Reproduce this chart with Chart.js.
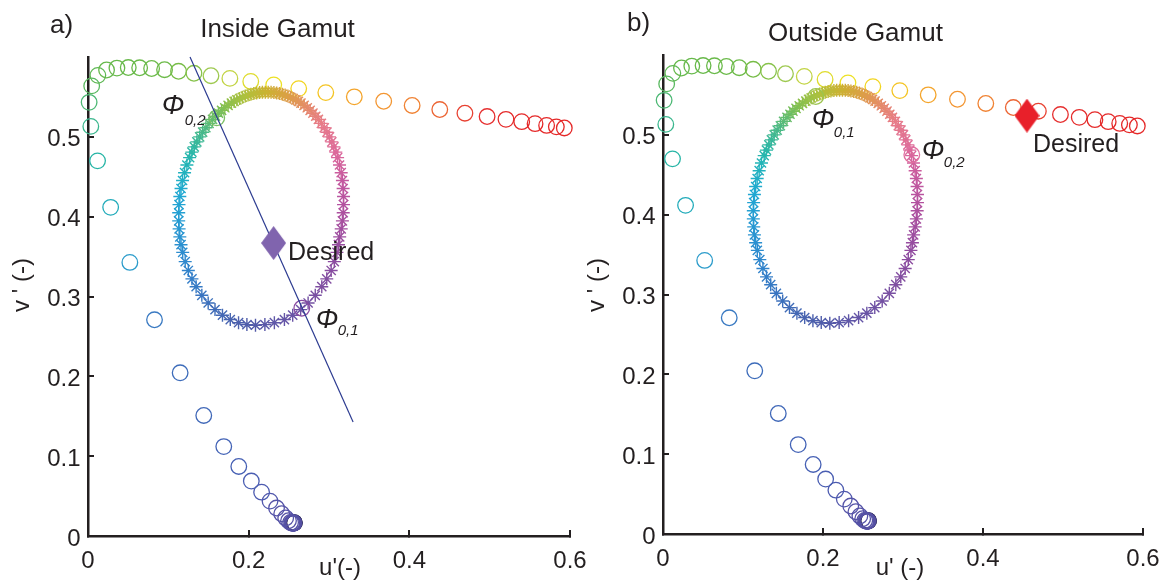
<!DOCTYPE html>
<html><head><meta charset="utf-8">
<script src="https://cdn.jsdelivr.net/npm/chart.js@4.4.1/dist/chart.umd.min.js"></script>
<style>
html,body{margin:0;padding:0;background:#fff;}
#wrap{position:relative;width:1164px;height:580px;overflow:hidden;background:#fff;}
.panel{position:absolute;top:0;height:580px;}
#pa{left:0;width:600px;} #pb{left:582px;width:582px;}
</style></head><body>
<div id="wrap">
 <div class="panel" id="pa"><canvas id="ca" width="600" height="580"></canvas></div>
 <div class="panel" id="pb"><canvas id="cb" width="582" height="580"></canvas></div>
</div>
<script>
// ---------------- data ----------------
const wavelengths = [380,385,390,395,400,405,410,415,420,425,430,435,440,445,450,455,460,465,470,475,480,485,490,495,500,505,510,515,520,525,530,535,540,545,550,555,560,565,570,575,580,585,590,595,600,605,610,615,620,625,630,635,640,645];
const locusU = [0.2568,0.2568,0.2564,0.2561,0.2557,0.2553,0.2546,0.2537,0.2522,0.2496,0.2461,0.2411,0.2347,0.2266,0.2161,0.2033,0.1877,0.1690,0.1441,0.1147,0.0828,0.0521,0.0282,0.0119,0.0035,0.0014,0.0046,0.0123,0.0231,0.0360,0.0501,0.0643,0.0792,0.0953,0.1127,0.1319,0.1531,0.1766,0.2026,0.2312,0.2623,0.2960,0.3315,0.3681,0.4035,0.4379,0.4692,0.4968,0.5203,0.5399,0.5565,0.5709,0.5830,0.5929];
const locusV = [0.0165,0.0166,0.0163,0.0162,0.0159,0.0160,0.0159,0.0163,0.0169,0.0191,0.0226,0.0279,0.0350,0.0437,0.0549,0.0688,0.0871,0.1120,0.1510,0.2044,0.2708,0.3427,0.4117,0.4699,0.5131,0.5432,0.5638,0.5770,0.5837,0.5861,0.5868,0.5865,0.5856,0.5841,0.5821,0.5796,0.5766,0.5732,0.5694,0.5651,0.5604,0.5554,0.5501,0.5446,0.5393,0.5342,0.5296,0.5254,0.5219,0.5190,0.5165,0.5143,0.5125,0.5111];

const gamutU = [0.2085,0.2202,0.2320,0.2445,0.2548,0.2647,0.2740,0.2829,0.2910,0.2972,0.3027,0.3066,0.3099,0.3118,0.3133,0.3152,0.3167,0.3177,
 0.3181,0.3181,0.3176,0.3167,0.3152,0.3131,0.3107,0.3085,0.3061,0.3035,0.3006,0.2975,0.2941,0.2905,0.2868,0.2835,0.2800,0.2765,0.2729,0.2690,0.2651,0.2619,0.2587,0.2555,0.2522,0.2488,0.2454,0.2420,0.2384,0.2349,0.2314,0.2279,0.2243,
 0.2207,0.2171,0.2136,0.2099,0.2064,0.2028,0.1992,0.1958,0.1922,0.1887,0.1853,0.1819,0.1785,0.1744,0.1703,0.1663,0.1624,0.1587,0.1550,0.1507,0.1467,0.1427,0.1390,0.1355,0.1323,0.1293,0.1265,0.1231,0.1202,0.1177,0.1158,0.1143,0.1133,
 0.1129,0.1129,0.1134,0.1143,0.1158,0.1179,0.1210,0.1249,0.1294,0.1346,0.1417,0.1496,0.1581,0.1674,0.1771,0.1874,0.1978];
const gamutV = [0.2640,0.2648,0.2672,0.2711,0.2766,0.2836,0.2919,0.3015,0.3123,0.3221,0.3326,0.3437,0.3553,0.3649,0.3747,0.3847,0.3947,0.4049,
 0.4151,0.4253,0.4353,0.4453,0.4551,0.4647,0.4740,0.4808,0.4874,0.4937,0.4999,0.5058,0.5114,0.5168,0.5218,0.5258,0.5296,0.5331,0.5364,0.5395,0.5423,0.5444,0.5463,0.5480,0.5496,0.5510,0.5523,0.5533,0.5542,0.5549,0.5554,0.5558,0.5560,
 0.5560,0.5558,0.5554,0.5549,0.5542,0.5533,0.5523,0.5510,0.5496,0.5480,0.5463,0.5444,0.5423,0.5395,0.5364,0.5331,0.5296,0.5258,0.5218,0.5168,0.5114,0.5058,0.4999,0.4937,0.4874,0.4808,0.4740,0.4647,0.4551,0.4453,0.4353,0.4253,0.4151,
 0.4049,0.3947,0.3847,0.3747,0.3649,0.3553,0.3437,0.3326,0.3221,0.3123,0.3015,0.2919,0.2836,0.2766,0.2711,0.2672,0.2648];

const desiredInside = [0.231, 0.367];
const desiredOutside = [0.455, 0.524];
const phiInside01 = [0.2661, 0.2853];
const phiInside02 = [0.1603, 0.5238];
const phiOutside01 = [0.191, 0.548];
const phiOutside02 = [0.311, 0.475];
const lineU = [0.127, 0.330];
const lineV = [0.600, 0.1429];

const xTicks = [0, 0.2, 0.4, 0.6];
const yTicks = [0, 0.1, 0.2, 0.3, 0.4, 0.5];

// ---------------- styles ----------------
const FONT = '"Liberation Sans", Arial, Helvetica, sans-serif';
const INK = '#231f20';
const locusColorStops = [[380,'#141428'],[385,'#2c2a5c'],[390,'#463f8a'],[400,'#5650a2'],[440,'#5654a8'],[450,'#4d5bb0'],[465,'#4363b6'],[475,'#3d6cba'],[480,'#3a7ac2'],[485,'#2c9ccb'],[490,'#21abba'],[495,'#27b5a6'],[500,'#3bb78e'],[505,'#4cb874'],[510,'#5ab960'],[520,'#66b94c'],[545,'#6cba48'],[550,'#76bc46'],[555,'#86c24a'],[560,'#9ec950'],[565,'#c2d444'],[570,'#dfdc2c'],[575,'#ede124'],[580,'#f2d520'],[585,'#f4c423'],[590,'#f4a52c'],[595,'#f39632'],[600,'#f08334'],[605,'#ec6534'],[610,'#e84232'],[615,'#e63030'],[620,'#e52a2a'],[645,'#e52828']];
const gamutColorStops = [[0,'#b0509f'],[15,'#c65a9f'],[27,'#db689c'],[45,'#e77b8a'],[58,'#e58a6c'],[72,'#dd9e48'],[88,'#cbb232'],[103,'#afc13e'],[120,'#80c052'],[138,'#48b98a'],[155,'#22b6b2'],[172,'#20a9d2'],[190,'#2898d2'],[210,'#3184cc'],[228,'#3a72be'],[248,'#4864b0'],[265,'#525aa8'],[282,'#6156a8'],[310,'#7850a2'],[335,'#8e4ca0'],[360,'#b0509f']];

function hex2rgb(h){return [parseInt(h.slice(1,3),16),parseInt(h.slice(3,5),16),parseInt(h.slice(5,7),16)];}
function interp(stops, t){
  if (t <= stops[0][0]) return stops[0][1];
  for (let i=1;i<stops.length;i++){
    if (t <= stops[i][0]){
      const [t0,c0]=stops[i-1],[t1,c1]=stops[i];
      const f=(t-t0)/(t1-t0), a=hex2rgb(c0), b=hex2rgb(c1);
      return 'rgb('+a.map((v,k)=>Math.round(v+(b[k]-v)*f)).join(',')+')';
    }
  }
  return stops[stops.length-1][1];
}
function gamutColor(u,v){
  let a = Math.atan2((v-0.41)/0.146,(u-0.2155)/0.1025)*180/Math.PI;
  if (a<0) a+=360;
  return interp(gamutColorStops,a);
}
function makeDiamond(color,w,h){
  const c=document.createElement('canvas'); c.width=w; c.height=h;
  const g=c.getContext('2d'); g.fillStyle=color; g.beginPath();
  g.moveTo(w/2,0); g.lineTo(w,h/2); g.lineTo(w/2,h); g.lineTo(0,h/2); g.closePath(); g.fill();
  return c;
}

const locusPts = locusU.map((u,i)=>({x:u,y:locusV[i]}));
const locusCols = wavelengths.map(w=>interp(locusColorStops,w));
const gamutPts = gamutU.map((u,i)=>({x:u,y:gamutV[i]}));
const gamutCols = gamutPts.map(p=>gamutColor(p.x,p.y));

// ---------------- text layer plugin (items kept outside Chart options) ----------------
function makeTextLayer(items){
  return {
    id:'textLayer',
    afterDraw(chart){
      const ctx=chart.ctx, xs=chart.scales.x, ys=chart.scales.y;
      ctx.save();
      items.forEach(it=>{
        let px=it.px, py=it.py;
        if (it.at){ px=xs.getPixelForValue(it.at[0])+(it.dx||0); py=ys.getPixelForValue(it.at[1])+(it.dy||0); }
        ctx.font=it.font; ctx.fillStyle=it.color||INK;
        if (it.rotate){
          ctx.save(); ctx.translate(px,py); ctx.rotate(-Math.PI/2);
          ctx.textAlign='center'; ctx.textBaseline='middle'; ctx.fillText(it.text,0,0); ctx.restore();
        } else {
          ctx.textAlign=it.align||'left'; ctx.textBaseline='alphabetic';
          ctx.fillText(it.text,px,py);
        }
      });
      ctx.restore();
    }
  };
}

function scales(yW, xH){
  return {
    x:{type:'linear',min:0,max:0.6,
      afterBuildTicks:s=>{s.ticks=xTicks.map(v=>({value:v}));},
      afterFit:s=>{s.height=xH; s.paddingLeft=0; s.paddingRight=0; s.paddingTop=0; s.paddingBottom=0;},
      grid:{drawOnChartArea:false,drawTicks:true,tickLength:-6,color:INK,tickColor:INK,lineWidth:2,tickWidth:2},
      border:{display:true,color:INK,width:2.5},
      ticks:{font:{family:FONT,size:24},color:INK,padding:17,maxRotation:0,autoSkip:false,callback:v=>String(v)},
      title:{display:false}
    },
    y:{type:'linear',min:0,max:0.6,
      afterBuildTicks:s=>{s.ticks=yTicks.map(v=>({value:v}));},
      afterFit:s=>{s.width=yW; s.paddingLeft=0; s.paddingRight=0; s.paddingTop=0; s.paddingBottom=0;},
      grid:{drawOnChartArea:false,drawTicks:true,tickLength:-6,color:INK,tickColor:INK,lineWidth:2,tickWidth:2},
      border:{display:true,color:INK,width:2.5},
      ticks:{font:{family:FONT,size:24},color:INK,padding:13.5,labelOffset:3,autoSkip:false,callback:v=>String(v)},
      title:{display:false}
    }
  };
}

function datasets(desired, desiredColor, phiPts, phiCols, withLine){
  const ds = [];
  ds.push({type:'scatter',label:'Desired',data:[{x:desired[0],y:desired[1]}],pointStyle:makeDiamond(desiredColor,25,34),pointRadius:12,order:0,clip:false});
  if (withLine) ds.push({type:'line',label:'line',data:lineU.map((u,i)=>({x:u,y:lineV[i]})),borderColor:'#2c3b90',borderWidth:1.2,pointRadius:0,fill:false,order:1,clip:false});
  ds.push({type:'scatter',label:'phi',data:phiPts.map(p=>({x:p[0],y:p[1]})),pointStyle:'circle',pointRadius:7.8,pointBorderWidth:1.3,pointBorderColor:phiCols,pointBackgroundColor:'rgba(0,0,0,0)',order:2,clip:false});
  ds.push({type:'scatter',label:'gamut',data:gamutPts,pointStyle:'star',pointRadius:6.5,pointBorderWidth:1.4,pointBorderColor:gamutCols,pointBackgroundColor:gamutCols,order:3,clip:false});
  ds.push({type:'scatter',label:'locus',data:locusPts,pointStyle:'circle',pointRadius:7.8,pointBorderWidth:1.3,pointBorderColor:locusCols,pointBackgroundColor:'rgba(0,0,0,0)',order:4,clip:false});
  return ds;
}

const common = {
  responsive:false, animation:false, events:[],
  plugins:{legend:{display:false},tooltip:{enabled:false},title:{display:false}}
};

const PHI = 'italic 27px '+FONT, SUB = 'italic 15px '+FONT, LAB = '24px '+FONT, TTL = '26px '+FONT;

const textA = [
  {text:'a)',px:50,py:33,font:TTL},
  {text:'Inside Gamut',px:277.5,py:37,align:'center',font:TTL},
  {text:"u'(-)",px:340,py:575,align:'center',font:LAB},
  {text:"v ' (-)",px:22,py:285,rotate:true,font:LAB},
  {text:'Desired',at:desiredInside,dx:14.5,dy:17,font:'25px '+FONT},
  {text:'\u03A6',at:phiInside02,dx:-55,dy:-4,font:PHI},
  {text:'0,2',at:phiInside02,dx:-32,dy:7,font:SUB},
  {text:'\u03A6',at:phiInside01,dx:14,dy:19.5,font:PHI},
  {text:'0,1',at:phiInside01,dx:36,dy:27,font:SUB}
];
const textB = [
  {text:'b)',px:45,py:31,font:TTL},
  {text:'Outside Gamut',px:273.5,py:41,align:'center',font:TTL},
  {text:"u' (-)",px:318,py:575,align:'center',font:LAB},
  {text:"v ' (-)",px:15,py:285,rotate:true,font:LAB},
  {text:'Desired',at:desiredOutside,dx:6,dy:36,font:'25px '+FONT},
  {text:'\u03A6',at:phiOutside01,dx:-4,dy:31,font:PHI},
  {text:'0,1',at:phiOutside01,dx:18,dy:40,font:SUB},
  {text:'\u03A6',at:phiOutside02,dx:10,dy:4,font:PHI},
  {text:'0,2',at:phiOutside02,dx:32,dy:12,font:SUB}
];

new Chart(document.getElementById('ca'),{
  data:{datasets:datasets(desiredInside,'#8064ae',[phiInside01,phiInside02],['#8a4aa2','#7cc064'],true)},
  options:Object.assign({},common,{
    layout:{padding:{top:57,right:30,bottom:0,left:0},autoPadding:false},
    scales:scales(88,44)
  }),
  plugins:[makeTextLayer(textA)]
});

new Chart(document.getElementById('cb'),{
  data:{datasets:datasets(desiredOutside,'#e8202a',[phiOutside01,phiOutside02],['#9cc450','#e070a0'],false)},
  options:Object.assign({},common,{
    layout:{padding:{top:55,right:21,bottom:0,left:0},autoPadding:false},
    scales:scales(81,46)
  }),
  plugins:[makeTextLayer(textB)]
});
</script>
</body></html>
